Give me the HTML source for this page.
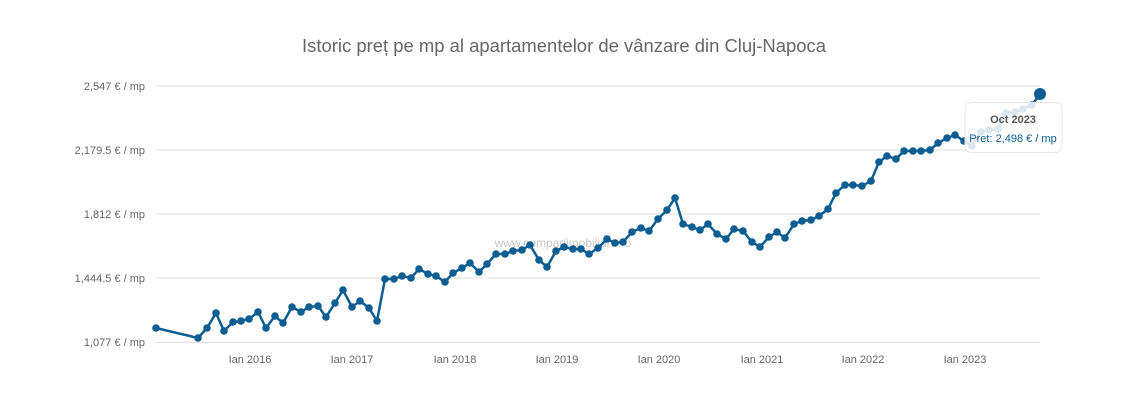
<!DOCTYPE html>
<html><head><meta charset="utf-8"><style>body{margin:0;background:#fff}svg{display:block}</style></head><body>
<svg width="1122" height="411" xmlns="http://www.w3.org/2000/svg" font-family="Liberation Sans, sans-serif">
<rect width="1122" height="411" fill="#fff"/>
<text x="302" y="52" font-size="18" fill="#666" textLength="524" lengthAdjust="spacingAndGlyphs">Istoric preț pe mp al apartamentelor de vânzare din Cluj-Napoca</text>
<g stroke="#e0e0e0" stroke-width="1">
<line x1="155" y1="86" x2="1040" y2="86"/><line x1="155" y1="150" x2="1040" y2="150"/><line x1="155" y1="214" x2="1040" y2="214"/><line x1="155" y1="278" x2="1040" y2="278"/><line x1="155" y1="342.5" x2="1040" y2="342.5"/>
</g>
<g font-size="11" fill="#666" text-anchor="end">
<text x="145" y="90">2,547 € / mp</text><text x="145" y="154">2,179.5 € / mp</text><text x="145" y="218">1,812 € / mp</text><text x="145" y="282">1,444.5 € / mp</text><text x="145" y="346">1,077 € / mp</text>
</g>
<g font-size="11" fill="#666" text-anchor="middle">
<text x="250" y="363">Ian 2016</text><text x="352" y="363">Ian 2017</text><text x="455" y="363">Ian 2018</text><text x="557" y="363">Ian 2019</text><text x="659" y="363">Ian 2020</text><text x="762" y="363">Ian 2021</text><text x="863" y="363">Ian 2022</text><text x="965" y="363">Ian 2023</text>
</g>
<text x="563" y="247" font-size="12" fill="#c8c8c8" text-anchor="middle">www.compariimobiliare.ro</text>
<g id="s">
<polyline fill="none" stroke="#0c5d91" stroke-width="2.5" points="156,328 198,338 207,328 216,313 224,331 233,322 241,321 249,319 258,312 266,328 275,316 283,323 292,307 301,312 309,307 318,306 326,317 335,303 343,290 352,307 360,301 369,308 377,321 385,279 394,279 402,276 411,278 419,269 428,274 436,276 445,282 453,273 462,268 470,263 479,272 487,264 496,254 505,254 513,251 522,250 530,245 539,260 547,267 556,251 564,247 573,249 581,249 589,254 598,248 607,239 615,243 623,242 632,232 641,228 649,231 658,219 667,210 675,198 683,224 692,227 700,230 708,224 717,234 726,239 734,229 743,231 752,242 760,247 769,237 777,232 785,238 794,224 802,221 811,220 819,216 828,209 836,193 845,185 853,185 862,186 871,181 879,162 887,156 896,159 904,151 913,151 921,151 930,150 938,143 947,138 955,135 964,141 972,146 981,132 989,130 998,129 1006,113 1015,112 1023,109 1032,105 1040,94"/>
</g>
<g fill="#0c5d91" id="d"></g>
<script>
var p=document.querySelector('#s polyline').getAttribute('points').trim().split(/\s+/);var g=document.getElementById('d');
p.forEach(function(q,i){var a=q.split(',');if(i==p.length-1)return;var c=document.createElementNS('http://www.w3.org/2000/svg','circle');c.setAttribute('cx',a[0]);c.setAttribute('cy',a[1]);c.setAttribute('r',3.8);g.appendChild(c);});
</script>
<circle cx="1040" cy="94" r="6" fill="#0c5d91"/>
<rect x="965" y="102.5" width="97" height="50" rx="6" fill="#fff" fill-opacity="0.85" stroke="#e8e8e8"/>
<text x="1013" y="123" font-size="11" fill="#555" text-anchor="middle" font-weight="bold">Oct 2023</text>
<text x="1013" y="142" font-size="11" fill="#0c5d91" text-anchor="middle">Pret: 2,498 € / mp</text>
</svg>
</body></html>
